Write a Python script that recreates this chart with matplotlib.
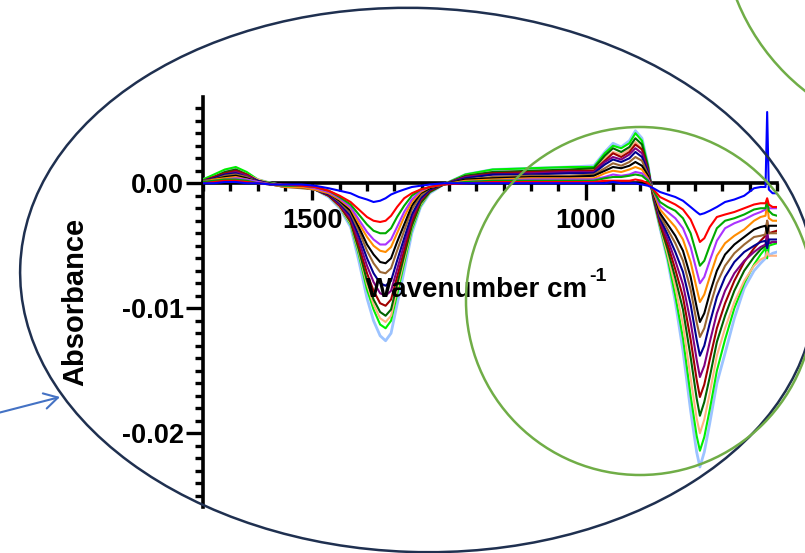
import matplotlib
matplotlib.use("Agg")
import matplotlib.pyplot as plt
from matplotlib.patches import Ellipse, Circle
from matplotlib.ticker import MultipleLocator, FormatStrFormatter
import numpy as np

plt.rcParams.update({
    "font.family": ["Liberation Sans", "DejaVu Sans"],
    "font.weight": "bold",
    "axes.unicode_minus": False,
})

# -- data: wavenumber grid (cm-1) and absorbance in units of 1e-4 --
wn = [1700, 1680, 1660, 1640, 1620, 1600, 1575, 1550,
      1520, 1495, 1470, 1450, 1430, 1415, 1400, 1388, 1376, 1366, 1356, 1345, 1332, 1318, 1302, 1285, 1260,
      1220, 1170, 1100, 1030, 985,
      965, 950, 935, 920, 909, 897, 886, 876,
      864, 850, 836, 822, 808, 797, 791, 783, 773, 760, 745, 728, 710, 692, 680, 671, 668, 665, 658, 650]

lightblue = [3, 6, 10, 12, 8, 3, 0, -2,
             -3, -5, -11, -20, -35, -62, -92, -110, -122, -126, -120, -97, -70, -40, -19, -8, -1,
             7, 11, 12, 13, 14,
             25, 32, 29, 34, 42, 36, 15, -13,
             -36, -62, -95, -134, -182, -215, -227, -215, -192, -160, -136, -108, -84, -70, -64, -60, -45, -58, -56, -55]
lime = [3, 7, 11, 13, 9, 3, 0, -2,
        -3, -5, -10, -19, -33, -57, -85, -101, -113, -116, -110, -89, -64, -37, -18, -7, -1,
        7, 11, 12, 13, 13,
        24, 30, 28, 32, 40, 34, 14, -13,
        -35, -60, -90, -124, -170, -202, -214, -203, -181, -150, -125, -100, -80, -65, -57, -52, -60, -50, -49, -48]
peach = [2, 5, 9, 11, 7, 3, 0, -2,
         -3, -5, -10, -19, -32, -55, -81, -97, -108, -111, -106, -85, -61, -35, -17, -7, -1,
         6, 9, 9, 10, 11,
         20, 25, 23, 27, 33, 28, 12, -12,
         -34, -57, -83, -113, -156, -188, -200, -189, -168, -138, -116, -95, -78, -66, -61, -59, -55, -58, -58, -58]
darkgreen = [2, 5, 9, 11, 7, 2, 0, -2,
             -3, -5, -10, -18, -31, -53, -78, -93, -103, -106, -101, -81, -58, -34, -16, -7, -1,
             6, 9, 10, 11, 12,
             22, 28, 25, 29, 36, 31, 13, -12,
             -33, -53, -76, -101, -139, -172, -186, -175, -155, -127, -106, -86, -70, -59, -53, -50, -44, -48, -47, -47]
darkred = [2, 5, 8, 10, 7, 2, -1, -2,
           -3, -5, -10, -18, -30, -50, -72, -86, -96, -98, -93, -75, -54, -31, -14, -6, -1,
           5, 8, 9, 10, 10,
           18, 24, 21, 25, 31, 27, 11, -11,
           -32, -49, -69, -91, -125, -157, -171, -161, -141, -116, -96, -78, -63, -52, -46, -42, -30, -40, -39, -38]
purple = [2, 4, 7, 9, 6, 2, -1, -2,
          -3, -5, -9, -17, -28, -46, -66, -79, -88, -90, -86, -69, -49, -28, -13, -5, -1,
          5, 7, 8, 9, 9,
          17, 21, 19, 23, 28, 24, 10, -10,
          -30, -45, -62, -81, -111, -141, -155, -146, -127, -104, -86, -72, -62, -55, -51, -49, -38, -48, -47, -47]
navy = [2, 4, 7, 8, 5, 2, -1, -3,
        -3, -5, -9, -16, -26, -42, -60, -72, -80, -82, -78, -62, -44, -25, -12, -5, -1,
        4, 7, 7, 8, 8,
        15, 19, 17, 20, 25, 21, 9, -10,
        -28, -41, -55, -71, -97, -125, -138, -130, -112, -91, -75, -63, -55, -50, -47, -46, -52, -45, -45, -45]
brown = [2, 3, 6, 7, 5, 1, -1, -3,
         -4, -5, -8, -15, -24, -38, -54, -64, -71, -72, -68, -54, -38, -21, -10, -4, -1,
         3, 5, 6, 6, 7,
         12, 16, 14, 17, 21, 18, 7, -9,
         -26, -37, -48, -62, -85, -111, -123, -116, -99, -80, -66, -56, -49, -43, -42, -41, -30, -40, -40, -40]
black = [1, 3, 5, 6, 4, 1, -1, -2,
         -3, -4, -8, -14, -22, -35, -49, -57, -63, -64, -60, -47, -33, -18, -8, -4, -1,
         3, 4, 5, 5, 6,
         10, 13, 12, 14, 17, 14, 6, -8,
         -24, -33, -42, -54, -75, -99, -111, -104, -88, -70, -57, -49, -43, -37, -35, -34, -40, -34, -34, -34]
orange = [1, 3, 4, 5, 3, 1, -1, -3,
          -3, -5, -8, -13, -20, -32, -43, -50, -54, -55, -51, -40, -27, -15, -7, -3, -1,
          2, 3, 4, 4, 4,
          8, 10, 9, 11, 13, 11, 4, -7,
          -21, -28, -35, -45, -63, -84, -95, -89, -75, -58, -48, -42, -37, -30, -27, -26, -16, -28, -30, -30]
violet = [1, 2, 3, 4, 3, 1, -1, -2,
          -2, -4, -7, -12, -19, -29, -39, -45, -49, -49, -45, -35, -23, -13, -6, -3, -1,
          1, 2, 3, 3, 3,
          5, 7, 6, 7, 9, 8, 3, -6,
          -18, -23, -28, -36, -51, -70, -80, -75, -62, -46, -36, -32, -29, -25, -23, -21, -15, -20, -20, -20]
green = [1, 2, 3, 3, 2, 0, -1, -2,
         -2, -3, -6, -11, -17, -25, -33, -38, -40, -40, -36, -27, -18, -10, -5, -3, -1,
         1, 2, 2, 2, 2,
         4, 5, 5, 6, 7, 6, 2, -6,
         -15, -19, -22, -28, -40, -57, -66, -62, -50, -36, -30, -28, -25, -21, -20, -20, -14, -22, -25, -26]
red = [0, 1, 2, 2, 1, 0, -1, -1,
       -2, -3, -6, -10, -15, -21, -27, -30, -31, -30, -26, -19, -12, -8, -5, -3, -1,
       0, 1, 1, 1, 1,
       2, 2, 2, 2, 3, 2, 0, -5,
       -11, -14, -17, -21, -29, -40, -47, -44, -35, -27, -25, -23, -20, -17, -16, -16, -12, -17, -19, -19]
blue = [0, 0, 1, 1, 0, 0, -1, -1,
        -1, -2, -4, -6, -8, -11, -13, -15, -14, -12, -9, -7, -5, -3, -2, -1, 0,
        0, 0, 0, 0, 0,
        0, 1, 0, 0, 0, -1, -2, -4,
        -7, -9, -11, -14, -19, -23, -25, -24, -22, -19, -15, -13, -10, -4, -3, -3, 57, -5, -8, -8]

series = [
    (lightblue, "#9CC3FF"), (lime, "#00EE00"), (peach, "#FFB380"),
    (darkgreen, "#006400"), (darkred, "#A00000"), (purple, "#800080"),
    (navy, "#000090"), (brown, "#996633"), (black, "#000000"),
    (orange, "#FF8C00"), (violet, "#AA33FF"), (green, "#00AA00"),
    (red, "#FF0000"), (blue, "#0000FF"),
]

W, H = 805, 553
fig = plt.figure(figsize=(W / 100, H / 100), dpi=100)
ax = fig.add_axes([203 / W, 1 - 507 / H, 574 / W, 410 / H])

for vals, col in series:
    lw = 2.0 if col == "#9CC3FF" else 1.5
    ax.plot(wn, np.array(vals) * 1e-4, color=col, lw=lw, zorder=3)

ax.set_xlim(1700, 650)
ax.set_ylim(-0.0259, 0.0069)
ax.spines["top"].set_visible(False)
ax.spines["right"].set_visible(False)
ax.spines["bottom"].set_position(("data", 0))
for s in ("left", "bottom"):
    ax.spines[s].set_linewidth(2.6)

ax.xaxis.set_major_locator(MultipleLocator(500))
ax.xaxis.set_minor_locator(MultipleLocator(50))
ax.yaxis.set_major_locator(MultipleLocator(0.01))
ax.yaxis.set_minor_locator(MultipleLocator(0.001))
ax.yaxis.set_major_formatter(FormatStrFormatter("%.2f"))
ax.tick_params(which="major", direction="out", length=12, width=2.4, labelsize=19.5)
ax.tick_params(which="minor", direction="out", length=6, width=2.4)
ax.tick_params(axis="x", which="major", pad=6)
ax.tick_params(axis="y", which="major", pad=2)
ax.set_facecolor("none")

fig.text(366 / W, 1 - 297 / H, "Wavenumber cm", fontsize=20,
         fontweight="bold", ha="left", va="baseline")
fig.text(589 / W, 1 - 281 / H, "-1", fontsize=14, fontweight="bold",
         ha="left", va="baseline")
fig.text(75 / W, 1 - 302 / H, "Absorbance", fontsize=21, fontweight="bold",
         rotation=90, ha="center", va="center")

# -- overlay shapes in pixel coordinates --
ov = fig.add_axes([0, 0, 1, 1], zorder=10)
ov.set_xlim(0, W)
ov.set_ylim(H, 0)
ov.axis("off")
ov.patch.set_alpha(0)
ov.add_patch(Ellipse((418, 280), 796, 544, angle=2, fill=False,
                     edgecolor="#1F3050", lw=1.8))
ov.add_patch(Circle((640, 301), 174, fill=False, edgecolor="#70AD47", lw=1.8))
ov.add_patch(Circle((941, -82), 220, fill=False, edgecolor="#70AD47", lw=1.8))
ov.annotate("", xy=(60, 397), xytext=(-2, 413),
            arrowprops=dict(arrowstyle="->,head_length=0.7,head_width=0.4",
                            color="#4472C4", lw=1.5, mutation_scale=14,
                            shrinkA=0, shrinkB=0))

fig.savefig("out.png", dpi=100)
